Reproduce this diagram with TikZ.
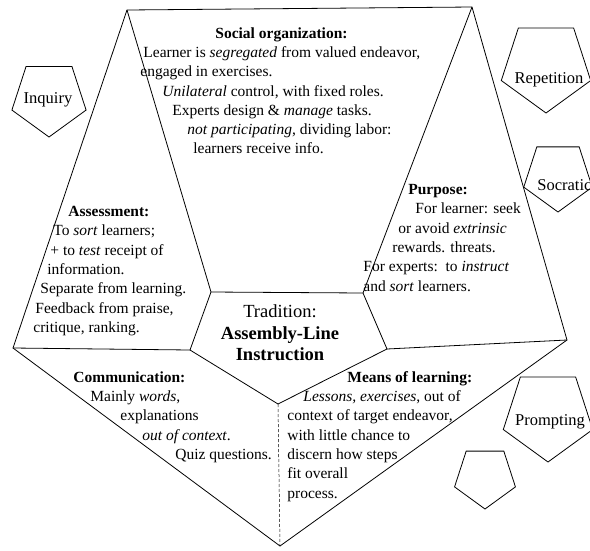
\documentclass[tikz,border=0pt]{standalone}
\usepackage{fontspec}
\setmainfont{Liberation Serif}
\usetikzlibrary{shapes.geometric, positioning}

\begin{document}
\begin{tikzpicture}[x=1pt, y=-1pt, line width=0.8pt,
    body/.style = {font=\fontsize{15.5}{19.3}\selectfont, align=left, anchor=north west, inner sep=0pt},
    petal/.style = {draw, regular polygon, regular polygon sides=5, shape border rotate=180, inner sep=0pt},
    tag/.style = {font=\fontsize{16.5}{19}\selectfont, inner sep=0pt}]
    \useasboundingbox (0,0) rectangle (590,550);

    % Outer corners
    \coordinate (tl) at (127,10);
    \coordinate (tr) at (472,7);
    \coordinate (rb) at (567,340);
    \coordinate (bot) at (280,546);
    \coordinate (bl) at (13,348);

    % Centre face
    \coordinate (a) at (211,292);
    \coordinate (b) at (363,293);
    \coordinate (c) at (387,349);
    \coordinate (d) at (278,404);
    \coordinate (e) at (190,350);

    \draw (tl) -- (tr) -- (rb) -- (bot) -- (bl) -- cycle;
    \draw (a) -- (b) -- (c) -- (d) -- (e) -- cycle;
    \draw (tl) -- (a);
    \draw (tr) -- (b);
    \draw (rb) -- (c);
    \draw (bl) -- (e);
    \draw [densely dashed, line width=0.5pt] (d) -- (bot);

    % Faces
    \node [body] (social) at (140,27) {\hspace*{75pt}\textbf{Social organization:}\\
        \hspace*{3pt}Learner is \emph{segregated} from valued endeavor,\\
        engaged in exercises.\\
        \hspace*{22pt}\emph{Unilateral} control, with fixed roles.\\
        \hspace*{32pt}Experts design \& \emph{manage} tasks.\\
        \hspace*{47pt}\emph{not participating}, dividing labor:\\
        \hspace*{53pt}learners receive info.};
    \node [body] (assessment) at (33,206) {\hspace*{35pt}\textbf{Assessment:}\\
        \hspace*{20pt}To \emph{sort} learners;\\
        \hspace*{17pt}+ to \emph{test} receipt of\\
        \hspace*{14pt}information.\\
        \hspace*{7pt}Separate from learning.\\
        \hspace*{2pt}Feedback from praise,\\
        critique, ranking.};
    \node [body] (purpose) at (363,184) {\hspace*{45pt}\textbf{Purpose:}\\
        \hspace*{52pt}For learner: seek\\
        \hspace*{35pt}or avoid \emph{extrinsic}\\
        \hspace*{29pt}rewards. threats.\\
        For experts:\ \ to \emph{instruct}\\
        and \emph{sort} learners.};
    \node [body] (communication) at (73,371) {\textbf{Communication:}\\
        \hspace*{17pt}Mainly \emph{words},\\
        \hspace*{47pt}explanations\\
        \hspace*{69pt}\emph{out of context}.\\
        \hspace*{102pt}Quiz questions.};
    \node [body] (means) at (287,371) {\hspace*{60pt}\textbf{Means of learning:}\\
        \hspace*{16pt}\emph{Lessons, exercises}, out of\\
        context of target endeavor,\\
        with little chance to\\
        discern how steps\\
        fit overall\\
        process.};
    \node [align=center, inner sep=0pt, font=\fontsize{18.5}{21.5}\selectfont] (tradition) at (280,333)
        {Tradition:\\ \textbf{Assembly-Line}\\ \textbf{Instruction}};

    % Other traditions
    \node [petal, minimum size=78] (inquiry) at (49,98) {};
    \node [petal, minimum size=94] (repetition) at (546,66) {};
    \node [petal, minimum size=72] (socratic) at (558,176) {};
    \node [petal, minimum size=94] (prompting) at (548,415) {};
    \node [petal, minimum size=64] (blank) at (485,477) {};
    \node [tag] (inquiryText) at (48,100) {Inquiry};
    \node [tag] (repetitionText) at (549,80) {Repetition};
    \node [tag, anchor=west] (socraticText) at (537,185) {Socratic};
    \node [tag] (promptingText) at (550,422) {Prompting};
\end{tikzpicture}
\end{document}
